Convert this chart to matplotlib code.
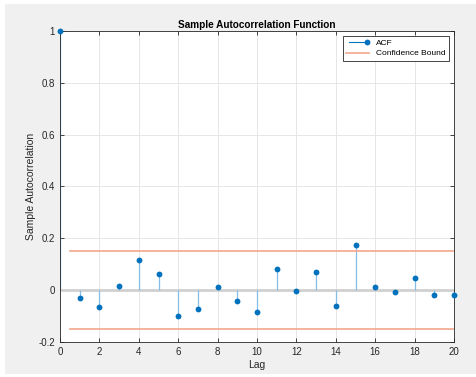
import numpy as np
import matplotlib
matplotlib.use('Agg')
import matplotlib.pyplot as plt
from matplotlib.patches import Rectangle
from matplotlib.legend_handler import HandlerLine2D

lags = np.arange(0, 21)
acf = [1.0, -0.030, -0.064, 0.015, 0.115, 0.061, -0.099, -0.073, 0.012, -0.042,
       -0.085, 0.080, -0.004, 0.069, -0.062, 0.174, 0.014, -0.008, 0.046, -0.019,
       -0.018]
bound = 0.15
bound_x = [0.5, 20]

plt.rcParams['font.family'] = ['Liberation Sans', 'DejaVu Sans']


class RightMarker(HandlerLine2D):
    # only keep the marker at the right end of the legend line
    def create_artists(self, *args, **kw):
        arts = super().create_artists(*args, **kw)
        arts[-1].set_markevery([1])
        return arts


fig = plt.figure(figsize=(4.77, 3.77), dpi=100, facecolor='white')
# grey figure panel like the MATLAB window
fig.patches.append(Rectangle((5 / 477, 3 / 377), 1, 370 / 377, transform=fig.transFigure,
                             facecolor='#f0f0f0', edgecolor='none', zorder=-5))

ax = fig.add_axes([60 / 477, 35 / 377, 394 / 477, 311 / 377])
ax.set_facecolor('white')

# baseline
ax.axhline(0, color='#d0d0d0', lw=2, zorder=1)

# stems
ax.vlines(lags, 0, acf, color='#86bde6', lw=0.9, zorder=2)
ax.plot(lags, acf, 'o', color='#0072BD', ms=4.2, zorder=3,
        markeredgewidth=0, clip_on=False)

# confidence bounds
cb, = ax.plot(bound_x, [bound, bound], color='#f4a68a', lw=1.2, zorder=2)
ax.plot(bound_x, [-bound, -bound], color='#f4a68a', lw=1.2, zorder=2)

ax.set_xlim(0, 20)
ax.set_ylim(-0.2, 1)
ax.set_xticks(range(0, 21, 2))
ax.set_yticks([-0.2, 0, 0.2, 0.4, 0.6, 0.8, 1])
ax.set_yticklabels(['-0.2', '0', '0.2', '0.4', '0.6', '0.8', '1'])
ax.grid(True, color='#e6e6e6', lw=0.7)
ax.set_axisbelow(True)
ax.tick_params(direction='in', length=3, width=0.6, labelsize=7, colors='#262626',
               top=True, right=True)
for s in ax.spines.values():
    s.set_color('#262626')
    s.set_linewidth(0.6)

ax.set_title('Sample Autocorrelation Function', fontsize=7.2, fontweight='bold', pad=2.5)
ax.set_xlabel('Lag', fontsize=7.5, labelpad=2, color='#262626')
ax.set_ylabel('Sample Autocorrelation', fontsize=7.5, labelpad=2, color='#262626')

h_acf, = ax.plot([], [], '-o', color='#0072BD', lw=0.8, ms=4.2, markeredgewidth=0)
leg = ax.legend([h_acf, cb], ['ACF', 'Confidence Bound'], loc='upper right', fontsize=6,
                frameon=True, fancybox=False, edgecolor='#262626', framealpha=1,
                handlelength=2.8, borderpad=0.4, labelspacing=0.3, borderaxespad=0.6,
                handler_map={h_acf: RightMarker(numpoints=2)})
leg.get_frame().set_linewidth(0.6)

fig.savefig('out.png', dpi=100)
